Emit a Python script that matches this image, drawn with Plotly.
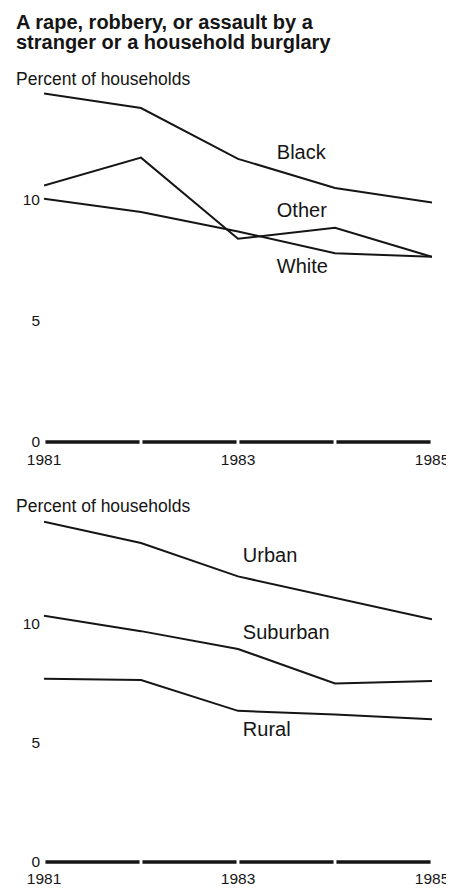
import plotly.graph_objects as go
from plotly.subplots import make_subplots

years = [1981, 1982, 1983, 1984, 1985]

# percent of households, by race
black = [14.4, 13.8, 11.7, 10.5, 9.9]
other = [10.6, 11.75, 8.4, 8.85, 7.65]
white = [10.05, 9.5, 8.7, 7.8, 7.65]

# percent of households, by place of residence
urban = [14.3, 13.4, 12.0, 11.1, 10.2]
suburban = [10.35, 9.7, 8.95, 7.5, 7.6]
rural = [7.7, 7.65, 6.35, 6.2, 6.0]

race_labels = ["Black", "Other", "White"]
race_label_y = [11.9, 9.5, 7.2]
place_labels = ["Urban", "Suburban", "Rural"]
place_label_y = [12.8, 9.6, 5.5]

ink = "#151515"
font = "Liberation Sans, Arial, sans-serif"

# page body keeps its default 8px margin: size the figure so it fits the
# 454x896 window without scrollbars, and lay out in window pixels minus 8
off = 8
W, H = 454 - off, 896 - 2 * off - 2
ymin = -0.25  # keeps the baseline off the clipping edge


def px_x(p):
    return (p - off) / W


def px_y(p):
    return 1 - (p - off) / H


fig = make_subplots(rows=2, cols=1)

for ys in [black, other, white]:
    fig.add_trace(go.Scatter(x=years, y=ys, mode="lines",
                             line=dict(color=ink, width=2)), row=1, col=1)
for ys in [urban, suburban, rural]:
    fig.add_trace(go.Scatter(x=years, y=ys, mode="lines",
                             line=dict(color=ink, width=2)), row=2, col=1)

fig.add_trace(go.Scatter(x=[1983.4] * 3, y=race_label_y, mode="text",
                         text=race_labels, textposition="middle right",
                         textfont=dict(size=20, color=ink, family=font)),
              row=1, col=1)
fig.add_trace(go.Scatter(x=[1983.05] * 3, y=place_label_y, mode="text",
                         text=place_labels, textposition="middle right",
                         textfont=dict(size=20, color=ink, family=font)),
              row=2, col=1)

# baseline drawn in segments with small breaks at each year
for xr, yr in [("x", "y"), ("x2", "y2")]:
    for a, b in zip(years[:-1], years[1:]):
        fig.add_shape(type="line", xref=xr, yref=yr, x0=a + 0.015, x1=b - 0.015,
                      y0=0, y1=0, line=dict(color=ink, width=3.5))

axis_common = dict(showgrid=False, zeroline=False, ticks="", automargin=False,
                   tickfont=dict(size=15.5, color=ink, family=font))

fig.update_xaxes(range=[1981, 1985], domain=[px_x(44), px_x(432)],
                 tickvals=[1981, 1983, 1985], showline=False,
                 ticklabelstandoff=0, **axis_common)
fig.update_yaxes(range=[ymin, 15], tickvals=[0, 5, 10], showline=False,
                 ticklabelstandoff=3, **axis_common)
# top panel: 0 at y=442, 24.2 px per unit; bottom panel: 0 at 862, 23.8 px per unit
fig.update_layout(
    yaxis=dict(domain=[px_y(442 - ymin * 24.2), px_y(442 - 15 * 24.2)]),
    yaxis2=dict(domain=[px_y(862 - ymin * 23.8), px_y(862 - 15 * 23.8)]))

for txt, ty in [("A rape, robbery, or assault by a", 9),
                ("stranger or a household burglary", 29)]:
    fig.add_annotation(text="<b>" + txt + "</b>", xref="paper", yref="paper",
                       x=px_x(14), y=px_y(ty), xanchor="left", yanchor="top",
                       showarrow=False, font=dict(size=20, color=ink, family=font))
for ty in [67, 494]:
    fig.add_annotation(text="Percent of households", xref="paper", yref="paper",
                       x=px_x(14), y=px_y(ty), xanchor="left", yanchor="top",
                       showarrow=False, font=dict(size=17.5, color=ink, family=font))

fig.update_layout(width=W, height=H, showlegend=False,
                  margin=dict(l=0, r=0, t=0, b=0),
                  paper_bgcolor="white", plot_bgcolor="white")

fig.write_html("out.html")
